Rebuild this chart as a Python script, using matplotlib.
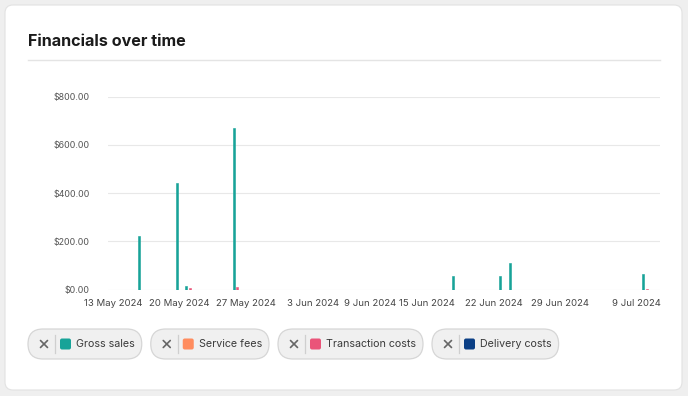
import matplotlib
matplotlib.use("Agg")
import matplotlib.pyplot as plt
from matplotlib.patches import FancyBboxPatch
import pandas as pd
import numpy as np

plt.rcParams['font.family'] = ['Inter', 'DejaVu Sans']

# ---- data ----
skipped_days = ["2024-07-06", "2024-07-07"]
dates = [d for d in pd.date_range("2024-05-13", "2024-07-11") if d.strftime("%Y-%m-%d") not in skipped_days]
categories = [f"{d.day} {d.strftime('%b %Y')}" for d in dates]

gross_sales = {"16 May 2024": 220, "20 May 2024": 440, "21 May 2024": 16, "26 May 2024": 670,
               "18 Jun 2024": 54, "23 Jun 2024": 58, "24 Jun 2024": 108, "10 Jul 2024": 65}
service_fees = {}
transaction_costs = {"21 May 2024": 6, "26 May 2024": 10, "10 Jul 2024": 3}
delivery_costs = {}

series_names = ["Gross sales", "Service fees", "Transaction costs", "Delivery costs"]
series_colors = ["#17a398", "#ff8c5e", "#ea5479", "#0b3f85"]
series_data = [gross_sales, service_fees, transaction_costs, delivery_costs]

tick_labels = ["13 May 2024", "20 May 2024", "27 May 2024", "3 Jun 2024", "9 Jun 2024",
               "15 Jun 2024", "22 Jun 2024", "29 Jun 2024", "9 Jul 2024"]
y_ticks = [0, 200, 400, 600, 800]

# ---- figure ----
W, H = 688, 396
fig = plt.figure(figsize=(W / 100, H / 100), dpi=100)
fig.patch.set_facecolor('#efefef')

bg = fig.add_axes([0, 0, 1, 1])
bg.set_xlim(0, W)
bg.set_ylim(H, 0)
bg.axis('off')

card = FancyBboxPatch((5, 5), 677, 385, boxstyle="round,pad=0,rounding_size=8",
                      fc='white', ec='#e2e2e2', lw=0.8)
bg.add_patch(card)
bg.text(28, 46.5, "Financials over time", fontsize=11.6, fontweight='bold',
        va='baseline', ha='left', color='#1b1b1b')
bg.plot([28, 660], [59.5, 59.5], color='#e4e4e4', lw=1)

# ---- chart ----
ax = fig.add_axes([108 / W, (H - 289.5) / H, 552 / W, (289.5 - 96.7) / H])
ax.set_facecolor('none')
x = np.arange(len(categories))
n = len(series_data)
bw = 0.19
for i, (name, col, data) in enumerate(zip(series_names, series_colors, series_data)):
    vals = [data.get(c, 0) for c in categories]
    ax.bar(x + (i - (n - 1) / 2) * bw, vals, width=bw, color=col, zorder=3,
           edgecolor=col, linewidth=0.4)

ax.set_xlim(-0.5, len(categories) - 0.5)
ax.set_ylim(0, 800)
ax.set_yticks(y_ticks)
ax.set_yticklabels([f"${v:,.2f}" for v in y_ticks])
ax.set_xticks([categories.index(t) for t in tick_labels])
ax.set_xticklabels(tick_labels)
ax.tick_params(axis='y', length=0, pad=13, labelsize=6.4, labelcolor='#555555')
ax.tick_params(axis='x', length=0, pad=7, labelsize=6.9, labelcolor='#444444')
for s in ax.spines.values():
    s.set_visible(False)
ax.yaxis.grid(True, color='#e8e8e8', lw=0.8)
ax.set_axisbelow(True)

# ---- legend chips ----
fig.canvas.draw()
renderer = fig.canvas.get_renderer()
start = 28
cy = 344
ch = 30
for name, col in zip(series_names, series_colors):
    t = bg.text(start + 48, cy, name, fontsize=7.7, color='#3a3a3a', va='center', ha='left', zorder=5)
    bb = t.get_window_extent(renderer=renderer)
    text_w = bb.width
    end = start + 48 + text_w + 7
    chip = FancyBboxPatch((start, cy - ch / 2), end - start, ch,
                          boxstyle=f"round,pad=0,rounding_size={ch/2}",
                          fc='#f0f0f0', ec='#d6d6d6', lw=0.9, zorder=2)
    bg.add_patch(chip)
    xc = start + 16
    d = 3.5
    bg.plot([xc - d, xc + d], [cy - d, cy + d], color='#666666', lw=1.2, zorder=5, solid_capstyle='round')
    bg.plot([xc - d, xc + d], [cy + d, cy - d], color='#666666', lw=1.2, zorder=5, solid_capstyle='round')
    bg.plot([start + 27, start + 27], [cy - 9, cy + 9], color='#cfcfcf', lw=0.9, zorder=5)
    sq = FancyBboxPatch((start + 32, cy - 5.5), 11, 11, boxstyle="round,pad=0,rounding_size=2",
                        fc=col, ec='none', zorder=5)
    bg.add_patch(sq)
    start = end + 9

fig.savefig("out.png", dpi=100, facecolor=fig.get_facecolor())
